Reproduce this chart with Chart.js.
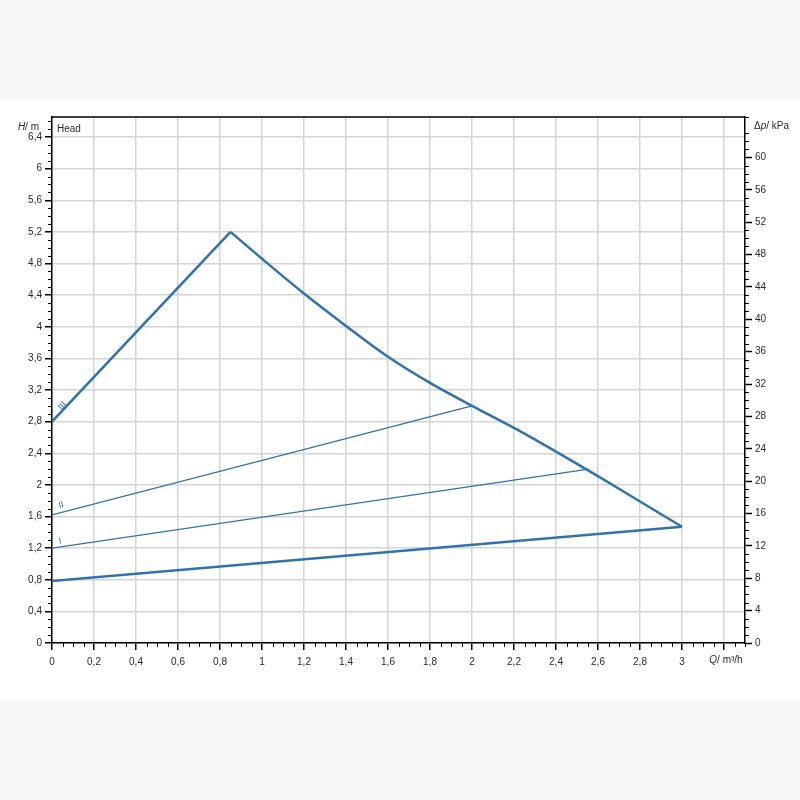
<!DOCTYPE html>
<html>
<head>
<meta charset="utf-8">
<script src="https://cdn.jsdelivr.net/npm/chart.js@4"></script>
<style>
  html, body { margin: 0; padding: 0; background: #f7f7f7; }
  #band { position: absolute; left: 0; top: 100px; width: 800px; height: 600px; background: #fff; }
  #holder { position: absolute; left: 0; top: 0; width: 800px; height: 800px; }
</style>
</head>
<body>
<div id="band"></div>
<div id="holder"><canvas id="pumpChart" width="800" height="800"></canvas></div>
<script>
// curve III (max speed): straight rise to the peak, then the falling curve to the max flow point
const riseQ = [0, 0.85];
const riseH = [2.8, 5.2];
const fallQ = [0.85, 1.0, 1.2, 1.4, 1.6, 1.8, 2.0, 2.2, 2.4, 2.6, 2.8, 3.0];
const fallH = [5.2, 4.86, 4.42, 4.01, 3.62, 3.29, 3.0, 2.72, 2.42, 2.11, 1.79, 1.47];
// lower limit line
const minQ = [0, 3.0];
const minH = [0.785, 1.47];
// speed II and speed I lines
const speed2Q = [0, 2.0];
const speed2H = [1.62, 3.0];
const speed1Q = [0, 2.555];
const speed1H = [1.2, 2.2];

// roman labels next to the lines at Q = 0
const curveNames = ['III', 'II', 'I'];
const curveNameQ = [0.03, 0.025, 0.02];
const curveNameH = [3.0, 1.74, 1.29];

// axes
const qMax = 3.3;
const kpaMax = 65;
const kpaPerM = 9.77;
const xTicks = [0, 0.2, 0.4, 0.6, 0.8, 1, 1.2, 1.4, 1.6, 1.8, 2, 2.2, 2.4, 2.6, 2.8, 3, 3.2];
const xLabels = ['0', '0,2', '0,4', '0,6', '0,8', '1', '1,2', '1,4', '1,6', '1,8', '2', '2,2', '2,4', '2,6', '2,8', '3', ''];
const yTicks = [0, 0.4, 0.8, 1.2, 1.6, 2, 2.4, 2.8, 3.2, 3.6, 4, 4.4, 4.8, 5.2, 5.6, 6, 6.4];
const yLabels = ['0', '0,4', '0,8', '1,2', '1,6', '2', '2,4', '2,8', '3,2', '3,6', '4', '4,4', '4,8', '5,2', '5,6', '6', '6,4'];
const kpaTicks = [0, 4, 8, 12, 16, 20, 24, 28, 32, 36, 40, 44, 48, 52, 56, 60];

const blue = '#3072ae';
const gridColor = '#d4d4d4';
const textColor = '#2a2a2a';
const fontFamily = 'Arial, "Liberation Sans", sans-serif';

const pts = (xs, ys) => xs.map((x, i) => ({ x: x, y: ys[i] }));

const lineSet = (xs, ys, width, smooth) => ({
  data: pts(xs, ys),
  borderColor: blue,
  borderWidth: width,
  pointRadius: 0,
  tension: smooth ? 0.4 : 0,
  cubicInterpolationMode: smooth ? 'monotone' : 'default',
  borderJoinStyle: 'miter',
  fill: false,
});

// minor ticks, top frame line, axis titles and curve names
const decorations = {
  id: 'decorations',
  afterDraw(chart) {
    const ctx = chart.ctx;
    const { left, right, top, bottom } = chart.chartArea;
    const xs = chart.scales.x, ys = chart.scales.y, ks = chart.scales.y2;
    ctx.save();

    ctx.strokeStyle = '#000';
    ctx.lineWidth = 1.5;
    ctx.beginPath();
    ctx.moveTo(left, top);
    ctx.lineTo(right, top);
    ctx.stroke();

    ctx.lineWidth = 1;
    ctx.beginPath();
    for (let i = 1; i * 0.05 <= qMax + 1e-9; i++) {
      if (i % 4 === 0) continue;
      const px = Math.round(xs.getPixelForValue(i * 0.05)) + 0.5;
      ctx.moveTo(px, bottom);
      ctx.lineTo(px, bottom + 4);
    }
    for (let i = 1; i * 0.1 <= ys.max + 1e-9; i++) {
      if (i % 4 === 0) continue;
      const py = Math.round(ys.getPixelForValue(i * 0.1)) + 0.5;
      ctx.moveTo(left, py);
      ctx.lineTo(left - 4, py);
    }
    for (let i = 1; i <= kpaMax; i++) {
      if (i % 4 === 0) continue;
      const py = Math.round(ks.getPixelForValue(i)) + 0.5;
      ctx.moveTo(right, py);
      ctx.lineTo(right + 4, py);
    }
    ctx.stroke();

    const italic = 'italic 10px ' + fontFamily;
    const normal = '10px ' + fontFamily;
    ctx.fillStyle = textColor;
    ctx.textBaseline = 'middle';
    ctx.textAlign = 'left';

    // H/ m
    ctx.font = normal;
    const hRest = '/ m';
    const wRest = ctx.measureText(hRest).width;
    ctx.font = italic;
    const wH = ctx.measureText('H').width;
    const hy = ys.getPixelForValue(6.52);
    let hx = left - 13 - wRest - wH;
    ctx.fillText('H', hx, hy);
    ctx.font = normal;
    ctx.fillText(hRest, hx + wH, hy);

    // Δp/ kPa
    const py = ks.getPixelForValue(63.8);
    let px = right + 9;
    ctx.fillText('\u0394', px, py);
    px += ctx.measureText('\u0394').width;
    ctx.font = italic;
    ctx.fillText('p', px, py);
    px += ctx.measureText('p').width;
    ctx.font = normal;
    ctx.fillText('/ kPa', px, py);

    // Q/ m³/h
    ctx.font = normal;
    const qRest = '/ m\u00b3/h';
    const wQRest = ctx.measureText(qRest).width;
    ctx.font = italic;
    const wQ = ctx.measureText('Q').width;
    let qx = xs.getPixelForValue(3.2) - (wQ + wQRest) / 2 + 2;
    const qy = bottom + 17;
    ctx.fillText('Q', qx, qy);
    ctx.font = normal;
    ctx.fillText(qRest, qx + wQ, qy);

    // Head
    ctx.fillText('Head', left + 5, ys.getPixelForValue(6.5));

    // curve names, turned along their lines
    const lineStarts = [[riseQ[0], riseH[0]], [speed2Q[0], speed2H[0]], [speed1Q[0], speed1H[0]]];
    const lineEnds = [[riseQ[1], riseH[1]], [speed2Q[1], speed2H[1]], [speed1Q[1], speed1H[1]]];
    ctx.fillStyle = blue;
    ctx.font = '9px ' + fontFamily;
    ctx.textAlign = 'center';
    curveNames.forEach((name, i) => {
      const dx = xs.getPixelForValue(lineEnds[i][0]) - xs.getPixelForValue(lineStarts[i][0]);
      const dy = ys.getPixelForValue(lineEnds[i][1]) - ys.getPixelForValue(lineStarts[i][1]);
      ctx.save();
      ctx.translate(xs.getPixelForValue(curveNameQ[i]) + 4, ys.getPixelForValue(curveNameH[i]));
      ctx.rotate(Math.atan2(dy, dx));
      ctx.fillText(name, 0, 0);
      ctx.restore();
    });
    ctx.restore();
  },
};

new Chart(document.getElementById('pumpChart'), {
  type: 'line',
  data: {
    datasets: [
      lineSet(riseQ, riseH, 2.5, false),
      lineSet(fallQ, fallH, 2.5, true),
      lineSet(minQ, minH, 2.5, false),
      lineSet(speed2Q, speed2H, 1.3, false),
      lineSet(speed1Q, speed1H, 1.3, false),
    ],
  },
  options: {
    responsive: false,
    animation: false,
    events: [],
    layout: { padding: { top: 117, left: 0, right: 0, bottom: 0 } },
    plugins: { legend: { display: false }, tooltip: { enabled: false } },
    scales: {
      x: {
        type: 'linear',
        position: 'bottom',
        min: 0,
        max: qMax,
        afterBuildTicks: (scale) => { scale.ticks = xTicks.map((v) => ({ value: v })); },
        afterFit: (scale) => { scale.height = 157; },
        grid: { color: gridColor, lineWidth: 1.5, tickColor: '#000', tickLength: 7, tickWidth: 1.5 },
        border: { color: '#000', width: 1.5 },
        ticks: {
          autoSkip: false,
          maxRotation: 0,
          padding: 6,
          color: textColor,
          font: { family: fontFamily, size: 10 },
          callback: (v, i) => xLabels[i],
        },
      },
      y: {
        type: 'linear',
        position: 'left',
        min: 0,
        max: kpaMax / kpaPerM,
        afterBuildTicks: (scale) => { scale.ticks = yTicks.map((v) => ({ value: v })); },
        afterFit: (scale) => { scale.width = 52; },
        grid: { color: gridColor, lineWidth: 1.5, tickColor: '#000', tickLength: 7, tickWidth: 1.5 },
        border: { color: '#000', width: 1.5 },
        ticks: {
          autoSkip: false,
          padding: 3,
          color: textColor,
          font: { family: fontFamily, size: 10 },
          callback: (v, i) => yLabels[i],
        },
      },
      y2: {
        type: 'linear',
        position: 'right',
        min: 0,
        max: kpaMax,
        afterBuildTicks: (scale) => { scale.ticks = kpaTicks.map((v) => ({ value: v })); },
        afterFit: (scale) => { scale.width = 55; },
        grid: { drawOnChartArea: false, tickColor: '#000', tickLength: 7, tickWidth: 1.5 },
        border: { color: '#000', width: 1.5 },
        ticks: {
          autoSkip: false,
          padding: 3,
          color: textColor,
          font: { family: fontFamily, size: 10 },
          callback: (v) => String(v),
        },
      },
    },
  },
  plugins: [decorations],
});
</script>
</body>
</html>
